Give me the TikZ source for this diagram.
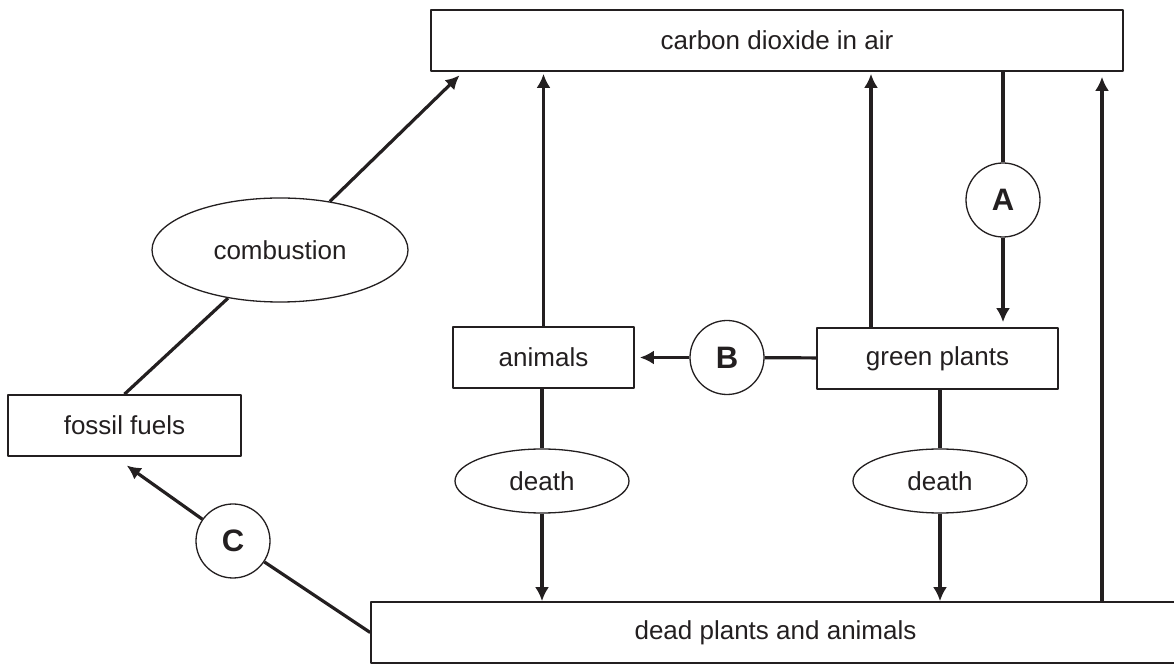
\documentclass[tikz,border=0pt]{standalone}
\usepackage{fontspec}
\setmainfont{Liberation Sans}
\usetikzlibrary{arrows.meta,shapes.geometric}
\definecolor{ink}{HTML}{231F20}
\tikzset{
  box/.style={draw=ink,line width=1.7bp,minimum height=61bp,inner sep=0pt,text=ink},
  proc/.style={draw=ink,ellipse,line width=1.3bp,inner sep=0pt,text=ink},
  tag/.style={draw=ink,circle,line width=1.3bp,minimum size=74bp,inner sep=0pt,text=ink,
    font=\fontsize{31bp}{36bp}\selectfont\bfseries},
  flow/.style={draw=ink,line width=3.2bp},
}
\begin{document}
\begin{tikzpicture}[>={Latex[length=14bp,width=14bp]},line join=bevel,font=\fontsize{26bp}{30bp}\selectfont]
\useasboundingbox (0bp,0bp) rectangle (1174bp,664bp);
%%
\node (co2) at (777bp,623.5bp) [box,minimum width=692bp] {carbon dioxide in air};
  \node (animals) at (543.5bp,306.5bp) [box,minimum width=181bp] {animals};
  \node (plants) at (937.5bp,305.5bp) [box,minimum width=241bp] {green plants};
  \node (fossil) at (124.5bp,238.5bp) [box,minimum width=233bp] {fossil fuels};
  \node (dead) at (775.5bp,31.5bp) [box,minimum width=809bp] {dead plants and animals};
%
  \node (comb) at (280bp,414bp) [proc,minimum width=256bp,minimum height=104bp] {combustion};
  \node (death1) at (542bp,183bp) [proc,minimum width=174bp,minimum height=64bp] {death};
  \node (death2) at (940bp,183bp) [proc,minimum width=174bp,minimum height=64bp] {death};
%
  \node (A) at (1003bp,464bp) [tag] {A};
  \node (B) at (727bp,306.5bp) [tag] {B};
  \node (C) at (233bp,123bp) [tag] {C};
%
  \draw [flow,->,shorten >=2bp] (animals) -- (animals |- co2.south);
  \draw [flow,->,shorten >=2bp] ([xshift=-66.5bp]plants.north) -- ([xshift=-66.5bp]plants.north |- co2.south);
  \draw [flow] (A |- co2.south) -- (A);
  \draw [flow,->,shorten >=5bp] (A) -- (A |- plants.north);
  \draw [flow,->,shorten >=5bp] ([xshift=326.5bp]dead.north) -- ([xshift=326.5bp]dead.north |- co2.south);
  \draw [flow] (plants) -- (B);
  \draw [flow,->,shorten >=5bp] (B) -- (animals);
  \draw [flow] (death1 |- animals.south) -- (death1);
  \draw [flow,->] (death1) -- (death1 |- dead.north);
  \draw [flow] (death2 |- plants.south) -- (death2);
  \draw [flow,->] (death2) -- (death2 |- dead.north);
  \draw [flow] (fossil.north) -- (comb);
  \draw [flow,->,shorten >=5bp] (comb) -- ([xshift=33bp]co2.south west);
  \draw [flow] (dead.west) -- (C);
  \draw [flow,->,shorten >=15bp] (C) -- ([xshift=-10bp]fossil.south);
%
\end{tikzpicture}
\end{document}
